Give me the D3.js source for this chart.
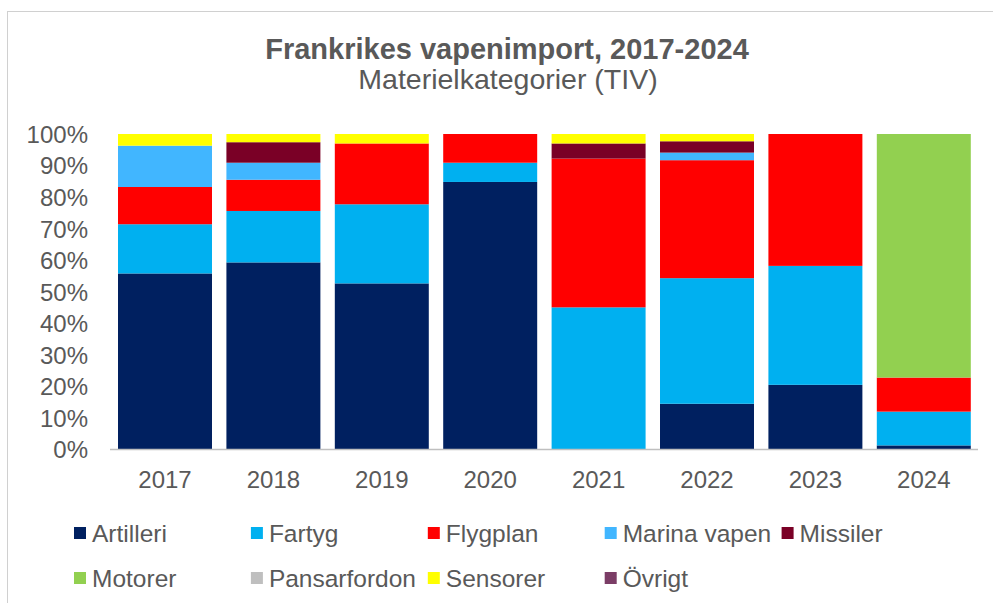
<!DOCTYPE html>
<html>
<head>
<meta charset="utf-8">
<script src="https://cdn.jsdelivr.net/npm/d3@7"></script>
<style>
  body { margin: 0; background: #fff; }
  text { font-family: 'Liberation Sans', Arial, sans-serif; fill: #595959; }
</style>
</head>
<body>
<div id="chart"></div>
<script>
const width = 993,
    height = 603

// data: share of TIV per category and year (percent)
const years = ['2017', '2018', '2019', '2020', '2021', '2022', '2023', '2024']
const categories = ['Artilleri', 'Fartyg', 'Flygplan', 'Marina vapen', 'Missiler',
  'Motorer', 'Pansarfordon', 'Sensorer', 'Övrigt']
const colors = ['#002060', '#00b0f0', '#ff0000', '#41b6ff', '#7a0026',
  '#92d050', '#bfbfbf', '#ffff00', '#7b3d66']

const artilleri    = [55.8, 59.3, 52.7, 84.8,  0.0, 14.5, 20.5,  1.3]
const fartyg       = [15.6, 16.3, 25.1,  6.1, 45.1, 39.8, 37.7, 10.7]
const flygplan     = [11.8,  9.9, 19.3,  9.1, 47.2, 37.4, 41.8, 10.8]
const marinaVapen  = [13.1,  5.4,  0.0,  0.0,  0.0,  2.4,  0.0,  0.0]
const missiler     = [ 0.0,  6.5,  0.0,  0.0,  4.8,  3.6,  0.0,  0.0]
const motorer      = [ 0.0,  0.0,  0.0,  0.0,  0.0,  0.0,  0.0, 77.2]
const pansarfordon = [ 0.0,  0.0,  0.0,  0.0,  0.0,  0.0,  0.0,  0.0]
const sensorer     = [ 3.7,  2.6,  3.0,  0.0,  3.0,  2.3,  0.0,  0.0]
const ovrigt       = [ 0.0,  0.0,  0.0,  0.0,  0.0,  0.0,  0.0,  0.0]

const yTicks = [0, 0.1, 0.2, 0.3, 0.4, 0.5, 0.6, 0.7, 0.8, 0.9, 1]

const series = [artilleri, fartyg, flygplan, marinaVapen, missiler,
  motorer, pansarfordon, sensorer, ovrigt]

// rows for d3.stack
const table = years.map((y, i) => {
  const row = { year: y }
  categories.forEach((c, j) => { row[c] = series[j][i] })
  return row
})

const stacked = d3.stack()
  .keys(categories)
  .offset(d3.stackOffsetExpand)(table)

const svg = d3.select('#chart')
  .append('svg')
    .attr('width', width)
    .attr('height', height)

// chart frame
svg.append('rect')
  .attr('x', 7.5)
  .attr('y', 11.5)
  .attr('width', width + 10)
  .attr('height', height + 10)
  .attr('fill', 'none')
  .attr('stroke', '#d0d0d0')
  .attr('stroke-width', 1)

const x = d3.scaleBand()
  .domain(years)
  .range([110.8, 978])
  .paddingInner(0.133)
  .paddingOuter(0.0665)

const y = d3.scaleLinear()
  .domain([0, 1])
  .range([449.5, 134])

const color = d3.scaleOrdinal().domain(categories).range(colors)

// bars
svg.append('g')
  .selectAll('g')
  .data(stacked)
  .join('g')
    .attr('fill', d => color(d.key))
  .selectAll('rect')
  .data(d => d)
  .join('rect')
    .attr('x', d => x(d.data.year))
    .attr('y', d => y(d[1]))
    .attr('width', x.bandwidth())
    .attr('height', d => y(d[0]) - y(d[1]))

// y axis labels (no line)
const yAxis = svg.append('g')
  .attr('transform', 'translate(88, 0)')
  .call(d3.axisLeft(y).tickValues(yTicks).tickFormat(d3.format('.0%')).tickSize(0).tickPadding(0))
yAxis.select('.domain').remove()
yAxis.selectAll('text')
  .style('font-size', '24px')
  .style('fill', '#595959')
  .attr('dy', '0.35em')

// x axis
const xAxis = svg.append('g')
  .attr('transform', 'translate(0, 449.5)')
  .call(d3.axisBottom(x).tickSize(0).tickPadding(0))
xAxis.select('.domain')
  .attr('stroke', '#bfbfbf')
  .attr('stroke-width', 1.5)
  .attr('d', 'M110,0H978')
xAxis.selectAll('text')
  .style('font-size', '24px')
  .style('fill', '#595959')
  .attr('y', 30)
  .attr('dy', '0.35em')

// title
svg.append('text')
  .attr('x', 507)
  .attr('y', 59)
  .attr('text-anchor', 'middle')
  .style('font-size', '29px')
  .style('font-weight', 'bold')
  .text('Frankrikes vapenimport, 2017-2024')

svg.append('text')
  .attr('x', 508)
  .attr('y', 89)
  .attr('text-anchor', 'middle')
  .style('font-size', '28.5px')
  .text('Materielkategorier (TIV)')

// legend
const legendCols = 5
const legend = svg.append('g')
  .selectAll('g')
  .data(categories)
  .join('g')
    .attr('transform', (d, i) => `translate(${74 + (i % legendCols) * 176.9}, ${533 + Math.floor(i / legendCols) * 45})`)

legend.append('rect')
  .attr('x', 0)
  .attr('y', -6)
  .attr('width', 12)
  .attr('height', 12)
  .attr('fill', d => color(d))

legend.append('text')
  .attr('x', 18)
  .attr('dy', '0.35em')
  .style('font-size', '24.5px')
  .text(d => d)
</script>
</body>
</html>
